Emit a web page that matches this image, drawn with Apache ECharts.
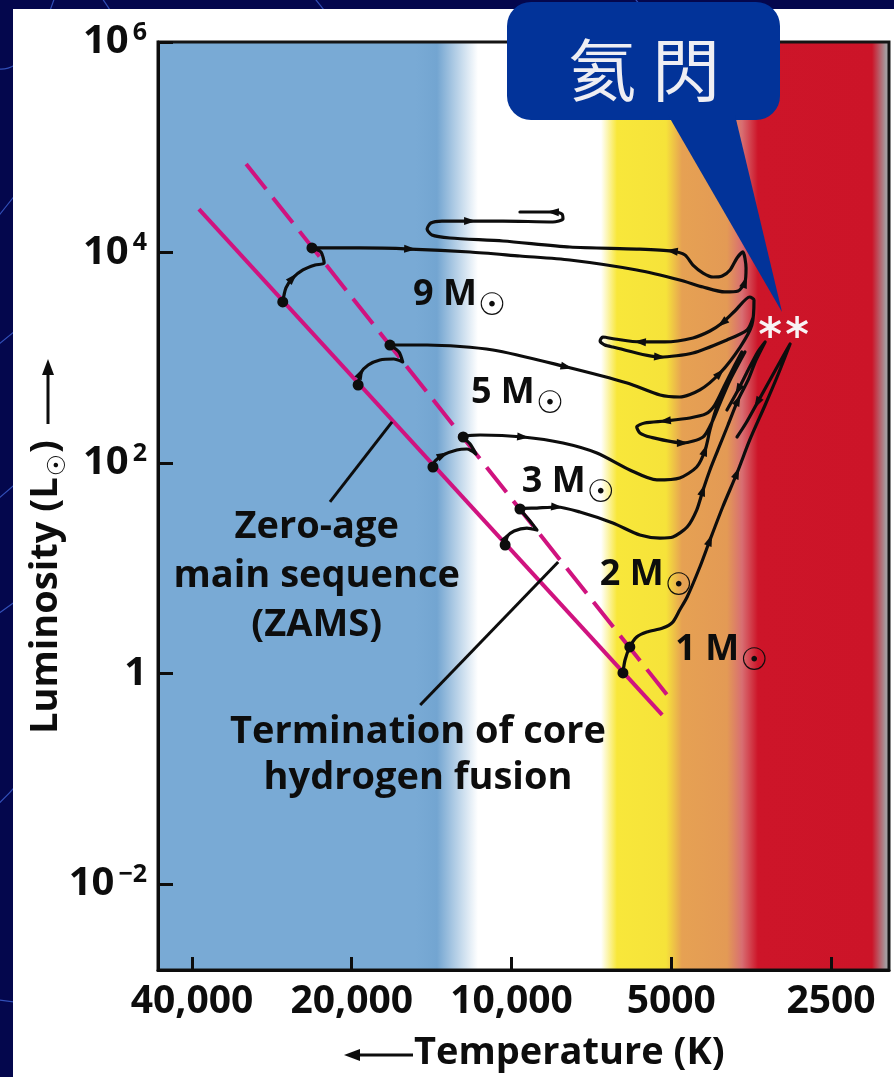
<!DOCTYPE html>
<html>
<head>
<meta charset="utf-8">
<title>Evolutionary tracks on the H-R diagram</title>
<script src="https://cdn.jsdelivr.net/npm/echarts@6.0.0/dist/echarts.min.js"></script>
<style>
html,body{margin:0;padding:0;background:#04074d;overflow:hidden;}
#chart{width:894px;height:1077px;}
</style>
</head>
<body>
<div id="chart"></div>
<script>
// ---- Axis ticks ----
const tempTicks = [40000, 20000, 10000, 5000, 2500];
const tempTickLabels = ['40,000', '20,000', '10,000', '5000', '2500'];
const lumTickExps = [6, 4, 2, 0, -2];

// Axis extents in log10(T/K) and log10(L/Lsun)
const logTRange = [3.2886, 4.6661];
const logLRange = [-2.8171, 6];

// Spectral colour bands across the temperature axis (log10 T)
const bandLogT = [4.6661, 4.180, 4.1404, 4.0631, 3.8313, 3.8012, 3.7088, 3.6787, 3.5939, 3.5657, 3.5355, 3.3207, 3.2943, 3.2886];
const bandColors = ['#79aad5', '#79aad5', '#73a5d1', '#ffffff', '#ffffff', '#f8e73a', '#f6e33a', '#e6a153', '#e39a55', '#d86e72', '#cd1529', '#cc1428', '#a59da0', '#a59da0'];

// Zero-age main sequence and end of core hydrogen burning [log T, log L]
const zams = [[4.589, 4.413], [3.716, -0.394]];
const tams = [[4.500, 4.841], [3.696, -0.271]];

// Evolutionary tracks [log T, log L]
const track9 = [
  [4.431, 3.530], [4.425, 3.663], [4.412, 3.758], [4.393, 3.834], [4.370, 3.881], [4.353, 3.900], [4.359, 4.005], [4.376, 4.043],
  [4.286, 4.043], [4.191, 4.033], [4.078, 4.005], [3.984, 3.967], [3.890, 3.929], [3.764, 3.834], [3.683, 3.739], [3.639, 3.672],
  [3.598, 3.625], [3.573, 3.634], [3.560, 3.720], [3.558, 3.853], [3.564, 4.005],
  [3.575, 3.948], [3.588, 3.834], [3.603, 3.777], [3.620, 3.767], [3.639, 3.805], [3.658, 3.881], [3.673, 3.976], [3.698, 4.014],
  [3.764, 4.033], [3.890, 4.052], [4.016, 4.109], [4.116, 4.138], [4.150, 4.166], [4.159, 4.223], [4.152, 4.280], [4.131, 4.299],
  [4.078, 4.299], [4.016, 4.299], [3.922, 4.290], [3.903, 4.318], [3.905, 4.366], [3.922, 4.385], [3.984, 4.385]
];
const track5 = [
  [4.289, 2.741], [4.284, 2.855], [4.270, 2.931], [4.248, 2.979], [4.222, 2.988], [4.205, 2.960], [4.212, 3.055], [4.229, 3.121],
  [4.159, 3.121], [4.035, 3.074], [3.896, 2.912], [3.782, 2.760], [3.720, 2.646], [3.683, 2.627], [3.645, 2.694], [3.607, 2.855],
  [3.569, 3.102], [3.547, 3.311], [3.543, 3.549],
  [3.551, 3.577], [3.579, 3.444], [3.603, 3.330], [3.626, 3.254], [3.658, 3.188], [3.711, 3.150], [3.758, 3.150], [3.805, 3.178],
  [3.828, 3.197], [3.833, 3.159], [3.824, 3.121], [3.809, 3.102], [3.720, 3.007], [3.658, 3.045], [3.594, 3.169], [3.556, 3.264], [3.545, 3.378]
];
const track3 = [
  [4.148, 1.962], [4.144, 2.019], [4.129, 2.076], [4.103, 2.124], [4.084, 2.133], [4.067, 2.086], [4.078, 2.181], [4.091, 2.247],
  [4.059, 2.266], [3.978, 2.247], [3.903, 2.190], [3.839, 2.095], [3.777, 1.934], [3.726, 1.839], [3.683, 1.858], [3.651, 1.962],
  [3.635, 2.124], [3.626, 2.314], [3.615, 2.504], [3.600, 2.694], [3.583, 2.884], [3.566, 3.055],
  [3.579, 2.931], [3.598, 2.741], [3.617, 2.551], [3.634, 2.466], [3.664, 2.428], [3.711, 2.399], [3.749, 2.380], [3.764, 2.342],
  [3.758, 2.285], [3.739, 2.247], [3.677, 2.190], [3.639, 2.247], [3.622, 2.390], [3.607, 2.570], [3.588, 2.789], [3.560, 3.055]
];
const track2 = [
  [4.012, 1.221], [4.009, 1.297], [3.995, 1.354], [3.971, 1.382], [3.952, 1.363], [3.965, 1.449], [3.984, 1.563],
  [3.952, 1.572], [3.914, 1.582], [3.871, 1.534], [3.809, 1.430], [3.758, 1.316], [3.720, 1.287], [3.696, 1.297], [3.669, 1.392],
  [3.651, 1.553], [3.639, 1.744], [3.626, 1.934], [3.611, 2.124], [3.592, 2.361], [3.573, 2.599], [3.554, 2.789], [3.539, 2.979], [3.522, 3.150],
  [3.536, 3.055], [3.554, 2.884], [3.573, 2.694], [3.594, 2.504]
];
const track1 = [
  [3.790, 0.005], [3.786, 0.128], [3.777, 0.252], [3.764, 0.347], [3.745, 0.394], [3.715, 0.432], [3.696, 0.489], [3.683, 0.603],
  [3.669, 0.727], [3.645, 1.012], [3.626, 1.268], [3.602, 1.582], [3.575, 1.905], [3.551, 2.219], [3.522, 2.551], [3.498, 2.836], [3.475, 3.131],
  [3.490, 2.998], [3.513, 2.789], [3.537, 2.570], [3.558, 2.380], [3.575, 2.247]
];

const massNames = ['9', '5', '3', '2', '1'];
const tamsIdx = [7, 7, 7, 6, 2];                 // end of core hydrogen burning on each track
const arrowIdx = [[2, 9, 18, 28, 37, 42], [1, 10, 15, 21, 25, 31], [2, 9, 16, 27, 32], [1, 8, 16, 20, 26], [10, 12, 19]];
const flashTrack = [3, 4];                        // helium flash on the 2 and 1 solar-mass tracks
const flashIdx = [23, 16];
const massLabelPos = [[4.065, 3.596], [3.956, 2.665], [3.860, 1.820], [3.713, 0.936], [3.571, 0.223]];

const zamsNote = ['Zero-age', 'main sequence', '(ZAMS)'];
const zamsNotePos = [4.367, 0.926];
const zamsPointer = [[4.342, 1.630], [4.225, 2.390]];
const tamsNote = ['Termination of core', 'hydrogen fusion'];
const tamsNotePos = [4.176, -0.774];
const tamsPointer = [[4.172, -0.299], [3.912, 1.059]];

const calloutText = ['氦', '閃'];

// ---- Drawing ----
const tracks = [track9, track5, track3, track2, track1];
const FONT = '"Open Sans", "DejaVu Sans", sans-serif';
const SUN_FONT = '"DejaVu Sans", sans-serif';
const INK = '#0d0d0d';
const MAGENTA = '#d0137f';
const ASTERISK = 'path://M8.5,0L11.5,0L11.5,20L8.5,20Z M2.09,3.7L19.41,13.7L17.91,16.3L0.59,6.3Z M0.59,13.7L17.91,3.7L19.41,6.3L2.09,16.3Z';
const HIDDEN = { color: 'rgba(0,0,0,0)', opacity: 1 };

const chart = echarts.init(document.getElementById('chart'), null, { renderer: 'canvas' });

const grid = { left: 158, right: 5, top: 42, bottom: 107, show: true, borderColor: '#151515', borderWidth: 3, backgroundColor: 'rgba(0,0,0,0)' };
const xAxis = {
  type: 'value', min: logTRange[0], max: logTRange[1], inverse: true, position: 'bottom',
  axisLine: { show: true, onZero: false, lineStyle: { color: INK, width: 3 } },
  axisTick: { show: true, inside: true, length: 13, lineStyle: { color: INK, width: 3 }, customValues: tempTicks.map(Math.log10) },
  axisLabel: {
    customValues: tempTicks.map(Math.log10), margin: 12, color: INK, fontFamily: FONT, fontWeight: 'bold', fontSize: 39,
    formatter: v => {
      let k = 0;
      tempTicks.forEach((t, i) => { if (Math.abs(Math.log10(t) - v) < Math.abs(Math.log10(tempTicks[k]) - v)) k = i; });
      return tempTickLabels[k];
    }
  },
  splitLine: { show: false }
};
const yAxis = {
  type: 'value', min: logLRange[0], max: logLRange[1],
  axisLine: { show: true, onZero: false, lineStyle: { color: INK, width: 3 } },
  axisTick: { show: true, inside: true, length: 15, lineStyle: { color: INK, width: 3 }, customValues: lumTickExps },
  axisLabel: {
    customValues: lumTickExps, margin: 11,
    formatter: v => {
      const e = Math.round(v);
      if (e === 0) return '{b|1}';
      return '{b|10}{s|' + (e < 0 ? '\u2212' + (-e) : e) + '}';
    },
    rich: {
      b: { fontFamily: FONT, fontWeight: 'bold', fontSize: 40, color: INK, lineHeight: 44, verticalAlign: 'middle' },
      s: { fontFamily: FONT, fontWeight: 'bold', fontSize: 25, color: INK, lineHeight: 44, verticalAlign: 'top', padding: [0, 0, 0, 4] }
    }
  },
  splitLine: { show: false }
};

chart.setOption({ animation: false, grid, xAxis, yAxis, series: [] });
const px = p => chart.convertToPixel({ gridIndex: 0 }, p);

function buildSeries() {
  const series = [];
  series.push({ type: 'line', data: zams, symbol: 'none', silent: true, z: 3,
    lineStyle: { color: MAGENTA, width: 4 } });
  series.push({ type: 'line', data: tams, symbol: 'none', silent: true, z: 3,
    lineStyle: { color: MAGENTA, width: 4, type: [32, 11] } });

  tracks.forEach((t, i) => series.push({
    type: 'line', name: massNames[i] + ' M\u2609', data: t, symbol: 'none', smooth: 0.25, silent: true, z: 4,
    lineStyle: { color: INK, width: 3.2, cap: 'round', join: 'round' }
  }));

  // pointer lines from the notes
  [zamsPointer, tamsPointer].forEach(p => series.push({
    type: 'line', data: p, symbol: 'none', silent: true, z: 4, lineStyle: { color: INK, width: 3 }
  }));

  // start and end of main-sequence life
  series.push({
    type: 'scatter', silent: true, z: 5, symbolSize: 11, itemStyle: { color: INK, opacity: 1 },
    data: tracks.flatMap((t, i) => [t[0], t[tamsIdx[i]]])
  });

  // direction arrows along the tracks
  const arrows = [];
  tracks.forEach((t, i) => arrowIdx[i].forEach(k => {
    const a = px(t[k - 1]), b = px(t[k + 1]);
    const ang = Math.atan2(-(b[1] - a[1]), b[0] - a[0]) * 180 / Math.PI;
    arrows.push({ value: t[k], symbolRotate: ang - 90 });
  }));
  series.push({ type: 'scatter', silent: true, z: 6, symbol: 'triangle', symbolSize: [8, 12], itemStyle: { color: INK, opacity: 1 }, data: arrows });

  // mass labels
  series.push({
    type: 'scatter', silent: true, z: 7, symbolSize: 0.1, itemStyle: HIDDEN, data: massLabelPos,
    label: { show: true, opacity: 1, position: [0, 0], align: 'right', verticalAlign: 'middle',
      formatter: p => massNames[p.dataIndex] + ' M', fontFamily: FONT, fontWeight: 'bold', fontSize: 36, color: INK }
  });
  series.push({
    type: 'scatter', silent: true, z: 7, symbolSize: 0.1, itemStyle: HIDDEN, data: massLabelPos,
    label: { show: true, opacity: 1, position: [0, 0], align: 'center', verticalAlign: 'middle', offset: [15, 12],
      formatter: '\u2609', fontFamily: SUN_FONT, fontSize: 31, color: INK }
  });

  // notes
  series.push({
    type: 'scatter', silent: true, z: 7, symbolSize: 0.1, itemStyle: HIDDEN,
    data: [
      { value: zamsNotePos, label: { formatter: zamsNote.join('\n'), lineHeight: 49 } },
      { value: tamsNotePos, label: { formatter: tamsNote.join('\n'), lineHeight: 46 } }
    ],
    label: { show: true, opacity: 1, position: [0, 0], align: 'center', verticalAlign: 'middle',
      fontFamily: FONT, fontWeight: 'bold', fontSize: 38, color: INK }
  });

  // helium flash
  const starOffsets = [[5, -15], [7, -17]];
  series.push({
    type: 'scatter', silent: true, z: 8, symbol: ASTERISK, symbolSize: 22, itemStyle: { color: '#f8f4f4', opacity: 1 },
    data: flashTrack.map((ti, j) => ({ value: tracks[ti][flashIdx[j]], symbolOffset: starOffsets[j] }))
  });
  return series;
}

function buildGraphic() {
  const els = [];
  // page backdrop with faint arcs
  els.push({ type: 'rect', z: -30, silent: true, shape: { x: 0, y: 0, width: 894, height: 1077 }, style: { fill: '#04074d' } });
  const arcs = [
    [-40, 40, 20, 120, 60, -20], [-30, 250, 30, 180, 70, 120], [-40, 380, 10, 330, 60, 300],
    [-30, 520, 40, 470, 60, 430], [-40, 640, 20, 600, 70, 560], [-20, 820, 30, 780, 60, 720],
    [-40, 990, 20, 1010, 70, 1000], [90, -20, 110, 10, 130, 40], [300, -20, 320, 5, 340, 30], [620, -20, 640, 5, 660, 30]
  ];
  arcs.forEach(a => els.push({ type: 'bezierCurve', z: -29, silent: true,
    shape: { x1: a[0], y1: a[1], cpx1: a[2], cpy1: a[3], x2: a[4], y2: a[5] },
    style: { fill: 'none', stroke: 'rgba(70,110,230,0.7)', lineWidth: 1.2 } }));
  els.push({ type: 'rect', z: -28, silent: true, shape: { x: 13, y: 9, width: 881, height: 1068 }, style: { fill: '#ffffff' } });

  // colour bands behind the plot
  const tl = px([logTRange[1], logLRange[1]]);
  const br = px([logTRange[0], logLRange[0]]);
  const w = br[0] - tl[0];
  const stops = bandLogT.map((t, i) => ({ offset: Math.min(1, Math.max(0, (px([t, 0])[0] - tl[0]) / w)), color: bandColors[i] }));
  els.push({ type: 'rect', z: -20, silent: true, shape: { x: tl[0], y: tl[1], width: w, height: br[1] - tl[1] },
    style: { fill: new echarts.graphic.LinearGradient(0, 0, 1, 0, stops) } });

  // axis titles
  const ctx = document.createElement('canvas').getContext('2d');
  ctx.font = 'bold 38px ' + FONT;
  const w1 = ctx.measureText('Luminosity (L').width;
  ctx.font = '25px ' + SUN_FONT;
  const wS = ctx.measureText('\u2609').width;
  const yBase = 734;
  els.push({ type: 'text', silent: true, z: 20, x: 46, y: yBase, rotation: Math.PI / 2,
    style: { text: 'Luminosity (L', font: 'bold 38px ' + FONT, fill: INK, align: 'left', verticalAlign: 'middle' } });
  els.push({ type: 'text', silent: true, z: 20, x: 58, y: yBase - w1 - 1 - wS / 2, rotation: Math.PI / 2,
    style: { text: '\u2609', font: '25px ' + SUN_FONT, fill: INK, align: 'center', verticalAlign: 'middle' } });
  els.push({ type: 'text', silent: true, z: 20, x: 46, y: yBase - w1 - wS - 2, rotation: Math.PI / 2,
    style: { text: ')', font: 'bold 38px ' + FONT, fill: INK, align: 'left', verticalAlign: 'middle' } });
  els.push({ type: 'line', silent: true, z: 20, shape: { x1: 48, y1: 424, x2: 48, y2: 372 }, style: { stroke: INK, lineWidth: 3 } });
  els.push({ type: 'polygon', silent: true, z: 20, shape: { points: [[48, 359], [42, 375], [54, 375]] }, style: { fill: INK } });

  els.push({ type: 'text', silent: true, z: 20, x: 414, y: 1053,
    style: { text: 'Temperature (K)', font: 'bold 38px ' + FONT, fill: INK, align: 'left', verticalAlign: 'middle' } });
  els.push({ type: 'line', silent: true, z: 20, shape: { x1: 358, y1: 1055, x2: 413, y2: 1055 }, style: { stroke: INK, lineWidth: 3 } });
  els.push({ type: 'polygon', silent: true, z: 20, shape: { points: [[344, 1055], [360, 1049], [360, 1061]] }, style: { fill: INK } });

  // speech-bubble callout for the helium flash
  els.push({ type: 'rect', silent: true, z: 100, shape: { x: 507, y: 2, width: 273, height: 118, r: 24 }, style: { fill: '#023399' } });
  els.push({ type: 'polygon', silent: true, z: 100, shape: { points: [[668, 115], [735, 115], [782, 312]] }, style: { fill: '#023399' } });
  els.push({ type: 'text', silent: true, z: 101, x: 602, y: 70,
    style: { text: calloutText[0], font: '68px "Noto Sans CJK TC", sans-serif', fill: '#eeeef3', align: 'center', verticalAlign: 'middle' } });
  els.push({ type: 'text', silent: true, z: 101, x: 686, y: 70,
    style: { text: calloutText[1], font: '68px "Noto Sans CJK TC", sans-serif', fill: '#eeeef3', align: 'center', verticalAlign: 'middle' } });
  return els;
}

chart.setOption({
  animation: false,
  backgroundColor: '#04074d',
  grid, xAxis, yAxis,
  series: buildSeries(),
  graphic: { elements: buildGraphic() }
}, true);
</script>
</body>
</html>
